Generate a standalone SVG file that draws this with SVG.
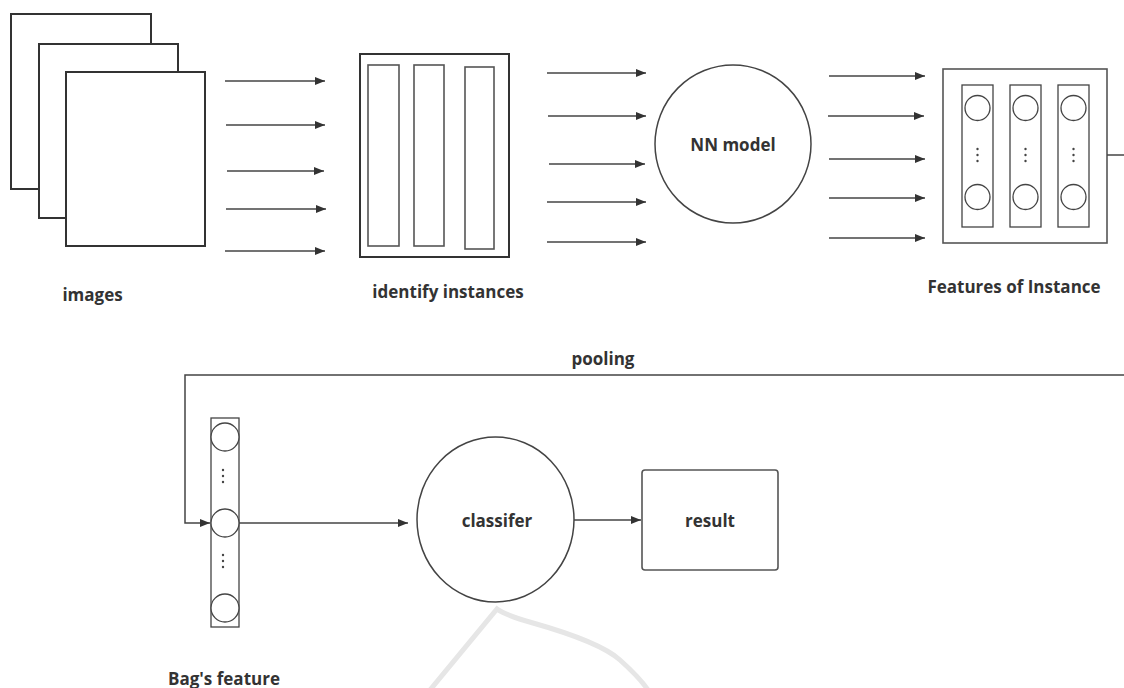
<svg xmlns="http://www.w3.org/2000/svg" width="1124" height="688" viewBox="0 0 1124 688">
  <defs>
    <marker id="arrow" viewBox="0 0 10 8" refX="10" refY="4" markerWidth="10" markerHeight="8" markerUnits="userSpaceOnUse" orient="auto">
      <path d="M0,0 L10,4 L0,8 z" fill="#333"/>
    </marker>
  </defs>
  <style>
    .box { fill: #fff; stroke: #333; stroke-width: 2; }
    .thin { fill: #fff; stroke: #555; stroke-width: 1.6; }
    .node { fill: #fff; stroke: #444; stroke-width: 1.5; }
    .unit { fill: #fff; stroke: #444; stroke-width: 1.3; }
    .dot { fill: #444; }
    .link { fill: none; stroke: #444; stroke-width: 1.5; }
    .arr { fill: none; stroke: #444; stroke-width: 1.5; marker-end: url(#arrow); }
    .label { font-family: "Open Sans", "Noto Sans", "Liberation Sans", sans-serif; font-size: 17px; font-weight: bold; fill: #333; text-anchor: middle; }
  </style>
  <rect width="1124" height="688" fill="#fff"/>

  <!-- faint background mark -->
  <path d="M430,690 L497,609 Q505,615 533,623 Q600,642 620,660 Q640,678 648,690" fill="none" stroke="#e6e6e6" stroke-width="5"/>

  <!-- stack of input images -->
  <g id="images">
    <rect class="box" x="11" y="14" width="140" height="175"/>
    <rect class="box" x="39" y="44" width="139" height="174"/>
    <rect class="box" x="66" y="72" width="139" height="174"/>
    <text class="label" x="92.5" y="301">images</text>
  </g>

  <!-- instance regions -->
  <g id="identify-instances">
    <rect class="box" x="360" y="54" width="149" height="203"/>
    <rect class="thin" x="368" y="65" width="31" height="181"/>
    <rect class="thin" x="414" y="65" width="30" height="181"/>
    <rect class="thin" x="465" y="67" width="29" height="182"/>
    <text class="label" x="448" y="298">identify instances</text>
  </g>

  <!-- network -->
  <g id="nn-model">
    <ellipse class="node" cx="733" cy="144" rx="78" ry="79"/>
    <text class="label" x="733" y="151">NN model</text>
  </g>

  <!-- per-instance feature vectors -->
  <g id="features-of-instance">
    <rect class="thin" x="943" y="69" width="164" height="174"/>
    <rect class="unit" x="962" y="85" width="31" height="142"/>
    <rect class="unit" x="1010" y="85" width="31" height="142"/>
    <rect class="unit" x="1058" y="85" width="31" height="142"/>
    <circle class="unit" cx="977.5" cy="108" r="12.5"/>
    <circle class="unit" cx="1025.5" cy="108" r="12.5"/>
    <circle class="unit" cx="1073.5" cy="108" r="12.5"/>
    <circle class="unit" cx="977.5" cy="197" r="12.5"/>
    <circle class="unit" cx="1025.5" cy="197" r="12.5"/>
    <circle class="unit" cx="1073.5" cy="197" r="12.5"/>
    <g class="dot">
      <circle cx="977.5" cy="149" r="1.2"/><circle cx="977.5" cy="155" r="1.2"/><circle cx="977.5" cy="161" r="1.2"/>
      <circle cx="1025.5" cy="149" r="1.2"/><circle cx="1025.5" cy="155" r="1.2"/><circle cx="1025.5" cy="161" r="1.2"/>
      <circle cx="1073.5" cy="149" r="1.2"/><circle cx="1073.5" cy="155" r="1.2"/><circle cx="1073.5" cy="161" r="1.2"/>
    </g>
    <text class="label" x="1014" y="293">Features of Instance</text>
  </g>

  <!-- pooled bag vector -->
  <g id="bag-feature">
    <rect class="unit" x="211" y="418" width="28" height="209"/>
    <circle class="unit" cx="225" cy="437" r="14"/>
    <circle class="unit" cx="225" cy="523" r="14"/>
    <circle class="unit" cx="225" cy="608" r="14"/>
    <g class="dot">
      <circle cx="223" cy="470" r="1.2"/><circle cx="223" cy="476" r="1.2"/><circle cx="223" cy="482" r="1.2"/>
      <circle cx="223" cy="555" r="1.2"/><circle cx="223" cy="561" r="1.2"/><circle cx="223" cy="567" r="1.2"/>
    </g>
    <text class="label" x="224" y="685">Bag's feature</text>
  </g>

  <g id="classifier">
    <ellipse class="node" cx="495.5" cy="519.5" rx="78.5" ry="82.5"/>
    <text class="label" x="497" y="527">classifer</text>
  </g>

  <g id="result">
    <rect class="thin" x="642" y="470" width="136" height="100" rx="3"/>
    <text class="label" x="710" y="527">result</text>
  </g>

  <!-- connectors -->
  <g id="connectors">
    <line class="arr" x1="225" y1="81" x2="325" y2="81"/>
    <line class="arr" x1="226" y1="125" x2="325" y2="125"/>
    <line class="arr" x1="227" y1="171" x2="324" y2="171"/>
    <line class="arr" x1="226" y1="209" x2="326" y2="209"/>
    <line class="arr" x1="225" y1="251" x2="325" y2="251"/>

    <line class="arr" x1="547" y1="73" x2="646" y2="73"/>
    <line class="arr" x1="548" y1="116" x2="646" y2="116"/>
    <line class="arr" x1="549" y1="164" x2="645" y2="164"/>
    <line class="arr" x1="547" y1="202" x2="646" y2="202"/>
    <line class="arr" x1="547" y1="242" x2="646" y2="242"/>

    <line class="arr" x1="829" y1="76" x2="925" y2="76"/>
    <line class="arr" x1="828" y1="116" x2="924" y2="116"/>
    <line class="arr" x1="829" y1="159" x2="925" y2="159"/>
    <line class="arr" x1="829" y1="198" x2="925" y2="198"/>
    <line class="arr" x1="829" y1="238" x2="925" y2="238"/>

    <line class="link" x1="1107" y1="155" x2="1124" y2="155"/>
    <path class="arr" d="M1124,375 L185,375 L185,523 L210,523"/>
    <text class="label" x="603" y="365">pooling</text>

    <line class="arr" x1="239" y1="523" x2="408" y2="523"/>
    <line class="arr" x1="574" y1="520" x2="641" y2="520"/>
  </g>
</svg>
